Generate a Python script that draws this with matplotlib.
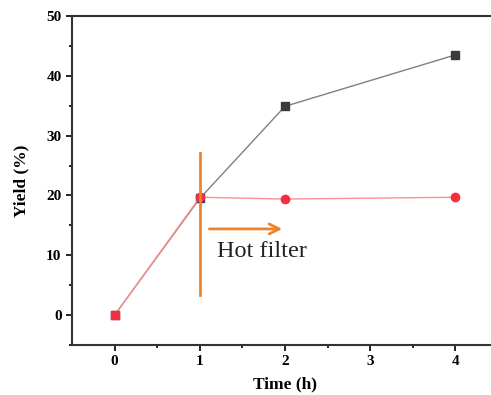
import numpy as np
from matplotlib import pyplot as plt

time_h = [0, 1, 2, 4]
yield_total = [0, 19.5, 34.9, 43.5]        # black squares
yield_filtered = [0, 19.7, 19.4, 19.7]     # red circles (after hot filter)

plt.rcParams['font.family'] = ['Liberation Serif', 'DejaVu Serif']

fig = plt.figure(figsize=(4.91, 3.95), dpi=100)
ax = fig.add_axes([72/491, 50/395, 426/491, 329/395])

ax.plot(time_h, yield_total, color='#808080', lw=1.0, marker='s', ms=6,
        mfc='#3a3a3a', mec='#3a3a3a', zorder=3)
ax.plot(time_h, yield_filtered, color='#ff9090', lw=1.0, marker='o', ms=6,
        mfc='#f03040', mec='#f03040', markevery=[1, 2, 3], zorder=4)
ax.plot(time_h[:1], yield_filtered[:1], 's', ms=6, color='#f03040', zorder=5)

# hot filter marker
ax.plot([1, 1], [3.3, 27.1], color='#f0832a', lw=2, zorder=6)
ax.annotate('', xy=(2.0, 14.4), xytext=(1.08, 14.4),
            arrowprops=dict(arrowstyle='->', color='#f0832a', lw=2, mutation_scale=18))
ax.text(1.2, 10.6, 'Hot filter', fontsize=17.5, color='#222222', va='center', ha='left')

ax.set_xlim(-0.5, 4.5)
ax.set_ylim(-5, 50)
ax.set_xticks([0, 1, 2, 3, 4])
ax.set_yticks([0, 10, 20, 30, 40, 50])
ax.set_xticks(np.arange(0.5, 4.5, 1), minor=True)
ax.set_yticks(np.arange(-5, 50, 10), minor=True)
ax.tick_params(which='major', direction='out', length=4, width=1.2, labelsize=11)
ax.tick_params(which='minor', direction='out', length=2.5, width=1.2)
for lab in ax.get_xticklabels() + ax.get_yticklabels():
    lab.set_fontweight('bold')
for s in ax.spines.values():
    s.set_linewidth(1.5)
    s.set_color('#333333')

ax.set_xlabel('Time (h)', fontsize=12.5, fontweight='bold', labelpad=6)
ax.set_ylabel('Yield (%)', fontsize=12.5, fontweight='bold', labelpad=12)

fig.savefig('out.png', dpi=100)
